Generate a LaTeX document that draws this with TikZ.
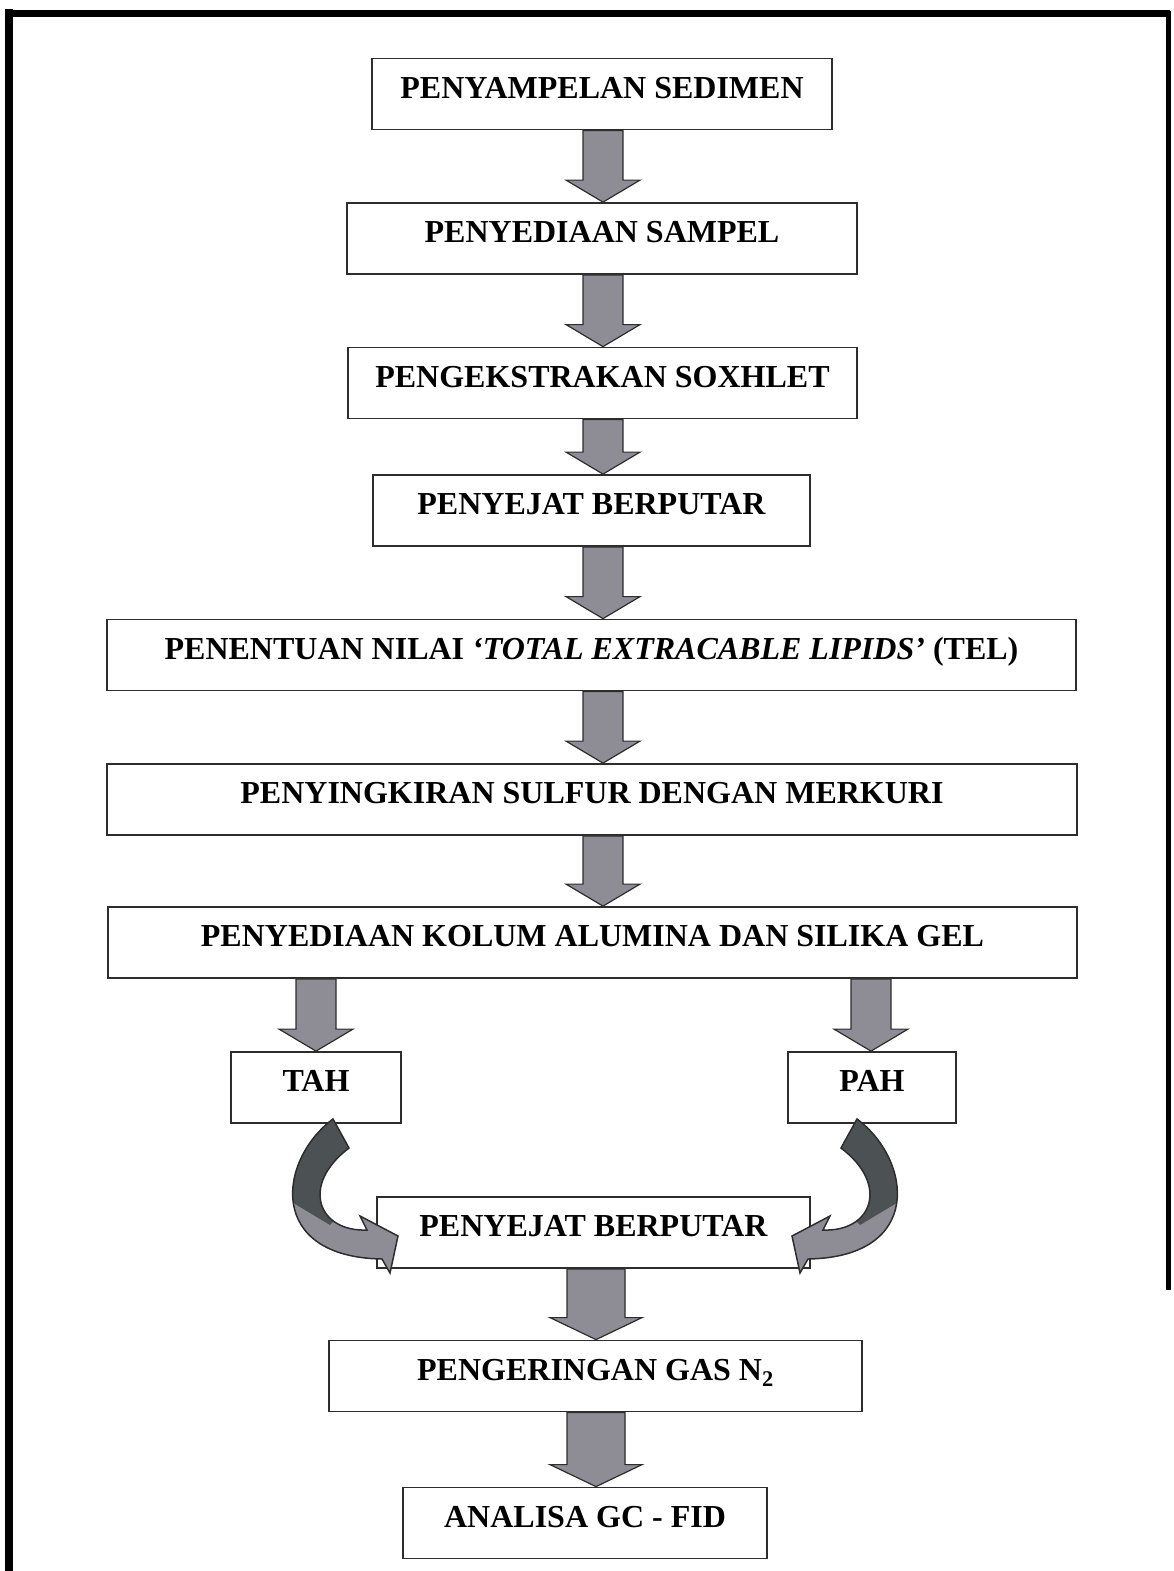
\documentclass[tikz,border=0pt]{standalone}
\usepackage{fontspec}
\setmainfont{Liberation Serif}
\usetikzlibrary{calc}

\definecolor{kelabu}{RGB}{142,141,150}
\definecolor{gelap}{RGB}{76,82,84}
\definecolor{garis}{RGB}{45,45,45}

\tikzset{
  kotak/.style={draw=garis, line width=1.8, fill=white, minimum height=71,
    text height=22, text depth=14, inner sep=0pt,
    font=\bfseries\fontsize{32}{38}\selectfont},
  panahblok/.style={draw=garis, line width=1.2, fill=kelabu, line join=miter},
}

\begin{document}
\begin{tikzpicture}[x=1pt, y=-1pt]

  %% block arrow: from node, to node, x, half shaft, half head
  \newcommand\panah[5]{%
    \draw[panahblok] let \p1=(#1.south), \p2=(#2.north) in
      (#3-#4,\y1) -- (#3+#4,\y1) -- (#3+#4,\y2+22pt) -- (#3+#5,\y2+22pt)
      -- (#3,\y2) -- (#3-#5,\y2+22pt) -- (#3-#4,\y2+22pt) -- cycle;}

  %% curved arrow out of TAH (mirrored for PAH)
  \newcommand\lengkung{%
    (333,1119) .. controls (278,1160) and (266,1257) .. (382,1259)
    -- (390,1273) -- (398,1236) -- (360,1216) -- (367,1230)
    .. controls (318,1232) and (300,1185) .. (349,1148) -- cycle}

  \useasboundingbox (0,0) rectangle (1173,1571);

  % frame
  \draw[line width=8, line cap=rect] (9,1575) -- (9,13.5);
  \draw[line width=7] (5,13.5) -- (1170,13.5);
  \draw[line width=5] (1168,11) -- (1168,1290);

  \node[kotak, minimum width=460] (sedimen) at (602,94) {PENYAMPELAN SEDIMEN};
  \node[kotak, minimum width=510] (sedia) at (602,238.5) {PENYEDIAAN SAMPEL};
  \node[kotak, minimum width=509] (ekstrak) at (602.5,383) {PENGEKSTRAKAN SOXHLET};
  \node[kotak, minimum width=437] (sejat) at (591.5,510.5) {PENYEJAT BERPUTAR};
  \node[kotak, minimum width=969] (tel) at (591.5,655)
    {PENENTUAN NILAI \textit{‘TOTAL EXTRACABLE LIPIDS’} (TEL)};
  \node[kotak, minimum width=970] (sulfur) at (592,799.5) {PENYINGKIRAN SULFUR DENGAN MERKURI};
  \node[kotak, minimum width=969] (kolum) at (592.5,942.5) {PENYEDIAAN KOLUM ALUMINA DAN SILIKA GEL};
  \node[kotak, minimum width=170] (tah) at (316,1087.5) {TAH};
  \node[kotak, minimum width=168] (pah) at (872,1087.5) {PAH};
  \node[kotak, minimum width=433] (sejatb) at (593.5,1232.5) {PENYEJAT BERPUTAR};
  \node[kotak, minimum width=533] (kering) at (595.5,1376) {PENGERINGAN GAS N\textsubscript{2}};
  \node[kotak, minimum width=364] (analisa) at (585,1523) {ANALISA GC - FID};

  \panah{sedimen}{sedia}{603}{20}{37}
  \panah{sedia}{ekstrak}{603}{20}{37}
  \panah{ekstrak}{sejat}{603}{20}{37}
  \panah{sejat}{tel}{603}{20}{37}
  \panah{tel}{sulfur}{603}{20}{37}
  \panah{sulfur}{kolum}{603}{20}{37}
  \panah{kolum}{tah}{316}{20}{37}
  \panah{kolum}{pah}{871}{20}{37}
  \panah{sejatb}{kering}{596}{29}{46}
  \panah{kering}{analisa}{596}{29}{46}

  % TAH -> penyejat
  \fill[kelabu] \lengkung;
  \begin{scope}
    \clip (250,1090) -- (430,1090) -- (430,1120) -- (330,1225) -- (250,1177) -- cycle;
    \fill[gelap] \lengkung;
  \end{scope}
  \draw[garis, line width=1.5] \lengkung;

  % PAH -> penyejat
  \begin{scope}[xshift=1190pt, xscale=-1]
    \fill[kelabu] \lengkung;
    \begin{scope}
      \clip (250,1090) -- (430,1090) -- (430,1120) -- (330,1225) -- (250,1177) -- cycle;
      \fill[gelap] \lengkung;
    \end{scope}
    \draw[garis, line width=1.5] \lengkung;
  \end{scope}

\end{tikzpicture}
\end{document}
